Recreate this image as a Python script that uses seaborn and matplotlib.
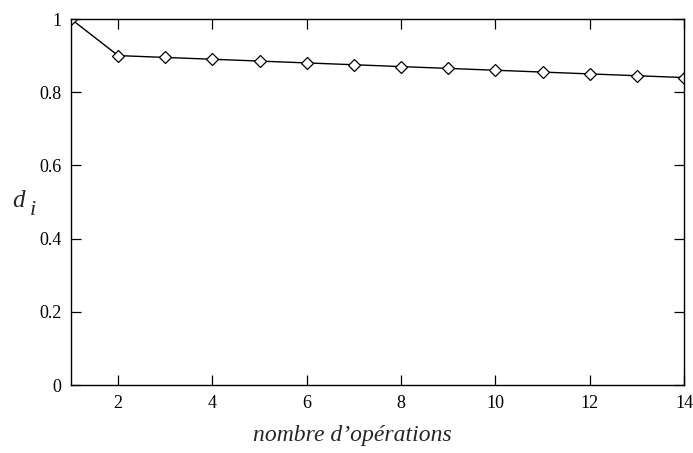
import matplotlib
matplotlib.use("Agg")
import matplotlib.pyplot as plt
import seaborn as sns
import pandas as pd

# number of operations and the corresponding d_i values
operations = [1, 2, 3, 4, 5, 6, 7, 8, 9, 10, 11, 12, 13, 14]
d_values = [1.0, 0.9, 0.895, 0.89, 0.885, 0.88, 0.875, 0.87, 0.865, 0.86, 0.855, 0.85, 0.845, 0.84]
x_ticks = [2, 4, 6, 8, 10, 12, 14]
y_ticks = [0, 0.2, 0.4, 0.6, 0.8, 1]
y_tick_labels = ["0", "0.2", "0.4", "0.6", "0.8", "1"]

sns.set_theme(style="ticks")
plt.rcParams["font.family"] = ["Liberation Serif", "DejaVu Serif"]

df = pd.DataFrame({"ops": operations, "d": d_values})

fig = plt.figure(figsize=(6.93, 4.53), dpi=100)
ax = fig.add_axes([71 / 693, 68 / 453, (684 - 71) / 693, (385 - 19) / 453])

sns.lineplot(data=df, x="ops", y="d", ax=ax, color="black", linewidth=1.0,
             marker="D", markersize=6, markerfacecolor="white",
             markeredgecolor="black", markeredgewidth=0.9)

ax.set_xlim(1, 14)
ax.set_ylim(0, 1)
ax.set_xticks(x_ticks)
ax.set_xticklabels([str(t) for t in x_ticks])
ax.set_yticks(y_ticks)
ax.set_yticklabels(y_tick_labels)
ax.tick_params(direction="in", length=7, width=0.9, top=True, right=True,
               labelsize=13, pad=7, colors="black")
for s in ax.spines.values():
    s.set_linewidth(1.0)
    s.set_color("black")

ax.set_xlabel("")
ax.set_ylabel("")
fig.text(352 / 693, 1 - 436 / 453, "nombre d\u2019opérations", ha="center",
         va="center", fontsize=17, style="italic")
fig.text(18 / 693, 1 - 201 / 453, "d", ha="center", va="center",
         fontsize=18, style="italic")
fig.text(33 / 693, 1 - 211 / 453, "i", ha="center", va="center",
         fontsize=16, style="italic")

fig.savefig("out.png", dpi=100, facecolor="white")
